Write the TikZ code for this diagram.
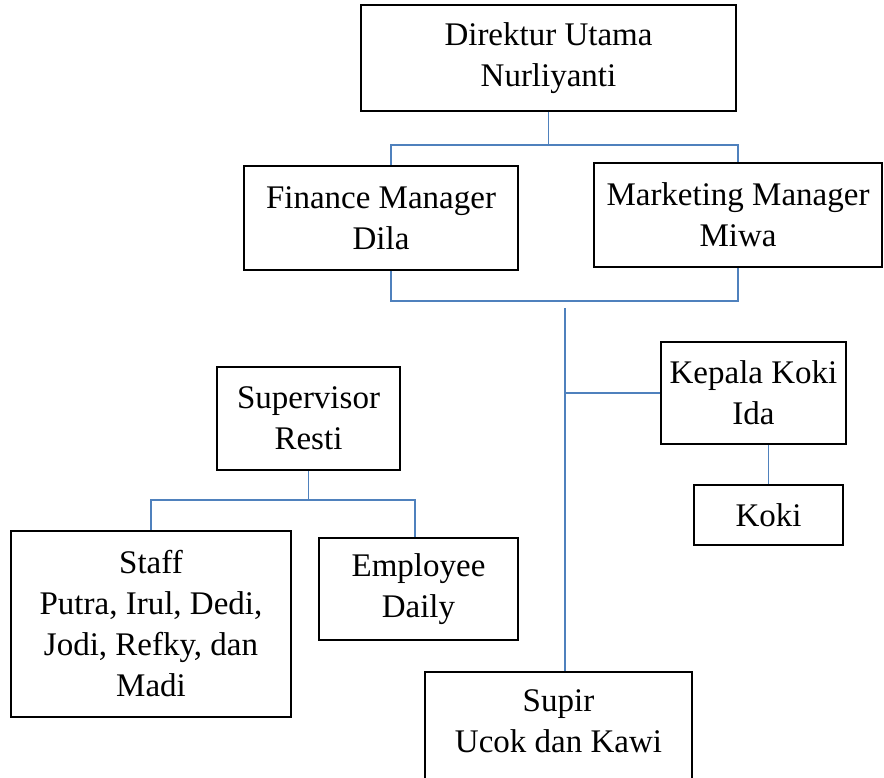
\documentclass[tikz,border=0pt]{standalone}
\usepackage{fontspec}
\setmainfont{Liberation Serif}
\usetikzlibrary{positioning,calc}
\definecolor{lineBlue}{RGB}{79,129,189}

\begin{document}
\begin{tikzpicture}[x=1pt,y=-1pt,
  box/.style={rectangle,draw=black,line width=1.6pt,align=center,inner sep=0pt,
              font=\fontsize{33}{41}\selectfont},
  link/.style={draw=lineBlue,line width=1.6pt}
]
  \useasboundingbox (0,0) rectangle (884,778);
  \node[box,minimum width=375pt,minimum height=106pt](dir) at (548.5,58)  {Direktur Utama\\Nurliyanti};
  \node[box,minimum width=274pt,minimum height=104pt](fin) at (381,218)   {Finance Manager\\Dila};
  \node[box,minimum width=288pt,minimum height=104pt](mkt) at (738,215)   {Marketing Manager\\Miwa};
  \node[box,minimum width=185pt,minimum height=102pt](kep) at (753.5,393) {Kepala Koki\\Ida};
  \node[box,minimum width=149pt,minimum height=60pt] (koki)at (768.5,515) {Koki};
  \node[box,minimum width=183pt,minimum height=103pt](spv) at (308.5,418.5){Supervisor\\Resti};
  \node[box,minimum width=280pt,minimum height=186pt](stf) at (151,624)   {Staff\\Putra, Irul, Dedi,\\Jodi, Refky, dan\\Madi};
  \node[box,minimum width=199pt,minimum height=102pt](emp) at (418.5,589) {Employee\\Daily};
  \node[box,minimum width=267pt,minimum height=140pt](sup) at (558.5,742) {Supir\\Ucok dan Kawi\\\mbox{}};
  \coordinate (topbus) at (548.5,145);
  \coordinate (midbus) at (565,301);
  \coordinate (trunk)  at (565,308);
  \coordinate (spvbus) at (308.5,500);
  % top level
  \draw[link](dir.south)--(topbus);
  \draw[link]([xshift=10pt]fin.north)|-(topbus)-|(mkt.north);
  % managers down to the trunk
  \draw[link]([xshift=10pt]fin.south)|-(midbus)-|(mkt.south);
  \draw[link](trunk)--(trunk |- sup.north);
  \draw[link](kep.west)--(kep.west -| trunk);
  \draw[link](koki.north)--(koki.north |- kep.south);
  % supervisor group
  \draw[link](spv.south)--(spvbus);
  \draw[link](stf.north)|-(spvbus)-|([xshift=-3.5pt]emp.north);
\end{tikzpicture}
\end{document}
